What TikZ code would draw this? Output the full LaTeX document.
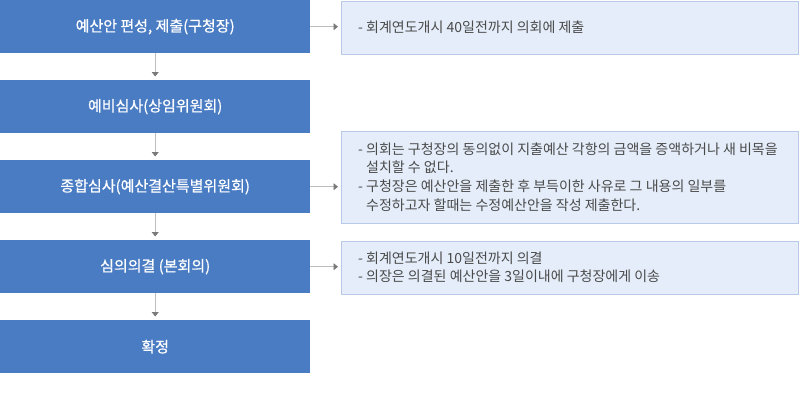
\documentclass[tikz,border=0pt]{standalone}
\usepackage{fontspec}
\setmainfont{Noto Sans CJK KR}
\newfontfamily\stepfont[FakeBold=0.6]{Noto Sans CJK KR}
\usetikzlibrary{arrows.meta,positioning}
\definecolor{stepblue}{HTML}{4A7CC4}
\definecolor{notefill}{HTML}{E4EDF9}
\definecolor{noteline}{HTML}{B7CBE8}
\definecolor{notetext}{HTML}{4A4A4A}
\definecolor{linegray}{HTML}{BDBDBD}
\definecolor{headgray}{HTML}{7A7A7A}
\tikzset{
  stepbox/.style={draw=none, fill=stepblue, text=white, anchor=north west,
    minimum width=310pt, minimum height=53pt, inner sep=0pt,
    font=\stepfont\fontsize{15}{18}\selectfont},
  notebox/.style={draw=noteline, line width=0.8pt, fill=notefill, anchor=north west,
    minimum width=457pt, inner sep=0pt},
  notetxt/.style={anchor=west, align=left, text=notetext, inner sep=0pt,
    font=\fontsize{14}{18.6}\selectfont},
  flow/.style={draw=linegray, line width=0.8pt,
    -{Triangle[width=7pt,length=4.5pt,color=headgray]}},
}
\begin{document}
\begin{tikzpicture}[x=1pt,y=-1pt]
\useasboundingbox (0,0) rectangle (800,413);
% left steps
\node[stepbox] (s1) at (0,0) {예산안 편성, 제출(구청장)};
\node[stepbox] (s2) at (0,80) {예비심사(상임위원회)};
\node[stepbox] (s3) at (0,160) {종합심사(예산결산특별위원회)};
\node[stepbox] (s4) at (0,240) {심의의결 (본회의)};
\node[stepbox] (s5) at (0,320) {확정};
% right notes
\node[notebox, minimum height=53pt] (n1) at (340.5,0.5) {};
\node[notebox, minimum height=92pt] (n3) at (340.5,130.5) {};
\node[notebox, minimum height=53pt] (n4) at (340.5,240.5) {};
\node[notetxt] (t1) at ([xshift=17.5pt]n1.west) {- 회계연도개시 40일전까지 의회에 제출};
\node[notetxt] (t3) at ([xshift=17.5pt]n3.west) {- 의회는 구청장의 동의없이 지출예산 각항의 금액을 증액하거나 새 비목을\\
\hphantom{- }설치할 수 없다.\\
- 구청장은 예산안을 제출한 후 부득이한 사유로 그 내용의 일부를\\
\hphantom{- }수정하고자 할때는 수정예산안을 작성 제출한다.};
\node[notetxt] (t4) at ([xshift=17.5pt]n4.west) {- 회계연도개시 10일전까지 의결\\
- 의장은 의결된 예산안을 3일이내에 구청장에게 이송};
% vertical connectors
\draw[flow, shorten >=3.5pt] (s1) -- (s2);
\draw[flow, shorten >=3.5pt] (s2) -- (s3);
\draw[flow, shorten >=3.5pt] (s3) -- (s4);
\draw[flow, shorten >=3.5pt] (s4) -- (s5);
% horizontal connectors
\draw[flow, shorten >=2.5pt] (s1.east) -- (s1.east -| n1.west);
\draw[flow, shorten >=2.5pt] (s3.east) -- (s3.east -| n3.west);
\draw[flow, shorten >=2.5pt] (s4.east) -- (s4.east -| n4.west);
\end{tikzpicture}
\end{document}
